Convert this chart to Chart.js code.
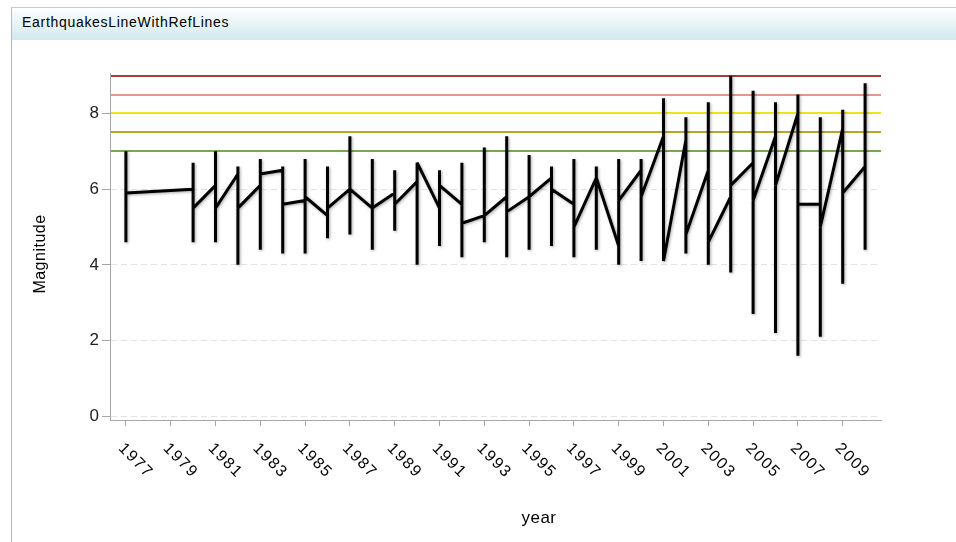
<!DOCTYPE html>
<html><head><meta charset="utf-8">
<script src="https://cdn.jsdelivr.net/npm/chart.js@4/dist/chart.umd.min.js"></script>
<style>
html,body{margin:0;padding:0;background:#fff;width:956px;height:542px;overflow:hidden;}
#frame{position:absolute;left:11px;top:7px;width:945px;height:535px;border-left:1px solid #b4bcc4;border-top:1px solid #c4ccd4;box-sizing:border-box;}
#header{position:absolute;left:12px;top:8px;width:944px;height:32px;background:linear-gradient(#fdfefe,#d0e9ee);}
#title{position:absolute;left:22px;top:14px;font:14px "Liberation Sans",Arial,sans-serif;letter-spacing:0.7px;color:#000;line-height:16px;}
#wrap{position:absolute;left:0;top:0;width:956px;height:542px;}
</style></head>
<body>
<div id="frame"></div><div id="header"></div><div id="title">EarthquakesLineWithRefLines</div>
<div id="wrap"><canvas id="c"></canvas></div>
<script>
// ---- data ----
const years    = [1977,1980,1981,1982,1983,1984,1985,1986,1987,1988,1989,1990,1991,1992,1993,1994,1995,1996,1997,1998,1999,2000,2001,2002,2003,2004,2005,2006,2007,2008,2009,2010];
const firstMag = [5.9,6.0,6.1,6.4,6.1,6.5,5.7,5.3,6.0,5.5,5.9,6.2,5.5,5.6,5.3,5.8,5.8,6.3,5.6,6.3,4.5,6.5,7.4,7.3,6.5,5.8,6.7,7.4,8.0,5.6,7.6,6.6];
const maxMag   = [7.0,6.7,7.0,6.6,6.8,6.6,6.8,6.6,7.4,6.8,6.5,6.7,6.5,6.7,7.1,7.4,6.9,6.6,6.8,6.6,6.8,6.8,8.4,7.9,8.3,9.0,8.6,8.3,8.5,7.9,8.1,8.8];
const minMag   = [4.6,4.6,4.6,4.0,4.4,4.3,4.3,4.7,4.8,4.4,4.9,4.0,4.5,4.2,4.6,4.2,4.4,4.5,4.2,4.4,4.0,4.1,4.1,4.3,4.0,3.8,2.7,2.2,1.6,2.1,3.5,4.4];
const lastMag  = [5.9,5.5,5.5,5.5,6.4,5.6,5.8,5.5,6.0,5.5,5.6,6.7,6.1,5.1,5.3,5.4,5.8,6.0,5.0,6.3,5.7,5.8,4.1,4.8,4.6,6.1,5.7,6.1,5.6,5.0,5.9,6.6];
const yTickValues = [0,2,4,6,8];
const xTickYears  = [1977,1979,1981,1983,1985,1987,1989,1991,1993,1995,1997,1999,2001,2003,2005,2007,2009];
const refLevels   = [7,7.5,8,8.5,9];
// ---- styles ----
const refColors = ['#7aa852','#bba52a','#f2e21c','#e3978d','#a83b3b'];
const axisGray = '#a6a6a6';
const labelFont = '"Liberation Sans", Arial, sans-serif';

const points = [];
years.forEach((yr, i) => {
  points.push({x: yr, y: firstMag[i]}, {x: yr, y: maxMag[i]}, {x: yr, y: minMag[i]}, {x: yr, y: lastMag[i]});
});

const deco = {
  id: 'deco',
  beforeDatasetsDraw(chart) {
    const {ctx, chartArea: a, scales: {y}} = chart;
    ctx.save();
    refLevels.forEach((v, i) => {
      const py = Math.round(y.getPixelForValue(v));
      ctx.strokeStyle = refColors[i];
      ctx.lineWidth = 2;
      ctx.beginPath(); ctx.moveTo(a.left + 1, py); ctx.lineTo(a.right, py); ctx.stroke();
    });
    ctx.restore();
    ctx.save();
    ctx.shadowColor = 'rgba(0,0,0,0.35)';
    ctx.shadowBlur = 3; ctx.shadowOffsetX = 1; ctx.shadowOffsetY = 1;
  },
  afterDatasetsDraw(chart) { chart.ctx.restore(); },
  afterDraw(chart) {
    const {ctx, scales: {x}} = chart;
    ctx.save();
    ctx.fillStyle = '#000';
    ctx.font = '16px ' + labelFont;
    ctx.letterSpacing = '1.5px';
    ctx.textAlign = 'left'; ctx.textBaseline = 'middle';
    xTickYears.forEach(yr => {
      const px = x.getPixelForValue(yr);
      ctx.save();
      ctx.translate(px - 5, 446);
      ctx.rotate(Math.PI / 4);
      ctx.fillText(String(yr), 0, 0);
      ctx.restore();
    });
    ctx.letterSpacing = '0.5px';
    ctx.font = '17px ' + labelFont;
    ctx.textAlign = 'center';
    ctx.fillText('year', 539, 518);
    ctx.font = '16px ' + labelFont;
    ctx.save();
    ctx.translate(41, 254);
    ctx.rotate(-Math.PI / 2);
    ctx.fillText('Magnitude', 0, 0);
    ctx.restore();
    ctx.restore();
  }
};

new Chart(document.getElementById('c'), {
  type: 'line',
  data: {
    datasets: [{
      data: points,
      borderColor: '#000',
      borderWidth: 3,
      pointRadius: 0,
      tension: 0,
      borderJoinStyle: 'bevel',
      borderCapStyle: 'butt',
      fill: false
    }]
  },
  options: {
    responsive: true,
    maintainAspectRatio: false,
    animation: false,
    devicePixelRatio: 1,
    layout: {padding: {left: 0, right: 75, top: 73, bottom: 0}},
    plugins: {legend: {display: false}, tooltip: {enabled: false}},
    scales: {
      x: {
        type: 'linear',
        min: 1976.29, max: 2010.71,
        afterFit(s) { s.height = 122; },
        afterBuildTicks(s) { s.ticks = xTickYears.map(v => ({value: v})); },
        ticks: {display: false},
        grid: {drawOnChartArea: false, drawTicks: true, tickLength: 6, color: axisGray},
        border: {display: true, color: axisGray, width: 1}
      },
      y: {
        min: -0.1, max: 9.07,
        afterFit(s) { s.width = 110; },
        afterBuildTicks(s) { s.ticks = yTickValues.map(v => ({value: v})); },
        ticks: {color: '#222', font: {size: 17, family: labelFont}, padding: 3},
        grid: {color: '#e2e2e2', tickColor: axisGray, tickLength: 8, lineWidth: 1},
        border: {display: true, color: axisGray, width: 1, dash: [6, 4]}
      }
    }
  },
  plugins: [deco]
});
</script>
</body></html>
